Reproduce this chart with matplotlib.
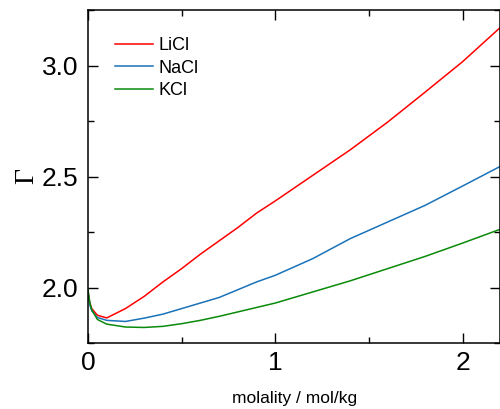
import matplotlib
matplotlib.use("Agg")
import matplotlib.pyplot as plt
from matplotlib.ticker import MultipleLocator

molality = [0.0, 0.01, 0.02, 0.05, 0.1, 0.2, 0.3, 0.4, 0.5, 0.6, 0.7, 0.8, 0.9,
            1.0, 1.2, 1.4, 1.6, 1.8, 2.0, 2.2]
licl = [1.98, 1.93, 1.905, 1.875, 1.863, 1.905, 1.96, 2.025, 2.085, 2.15, 2.21,
        2.27, 2.335, 2.39, 2.505, 2.62, 2.745, 2.88, 3.017, 3.17]
nacl = [1.98, 1.92, 1.895, 1.865, 1.852, 1.847, 1.862, 1.88, 1.905, 1.93, 1.955,
        1.99, 2.025, 2.055, 2.13, 2.22, 2.295, 2.37, 2.457, 2.545]
kcl = [1.99, 1.93, 1.90, 1.856, 1.835, 1.822, 1.82, 1.825, 1.837, 1.852, 1.87,
       1.89, 1.91, 1.93, 1.98, 2.03, 2.085, 2.14, 2.20, 2.262]
labels = ["LiCl", "NaCl", "KCl"]
colors = ["#ff0000", "#1a72b8", "#0a8a0a"]
xticks = [0, 1, 2]
yticks = [2.0, 2.5, 3.0]

plt.rcParams['font.family'] = ['Liberation Sans', 'DejaVu Sans']
fig = plt.figure(figsize=(5.0, 4.09), dpi=100)
ax = fig.add_axes([88/500, 1-343/409, 412/500, 333/409])

for y, lab, c in zip([licl, nacl, kcl], labels, colors):
    ax.plot(molality, y, color=c, lw=1.1, label=lab)

ax.set_xlim(0, 2.2)
ax.set_ylim(1.75, 3.25)
ax.set_xticks(xticks)
ax.set_xticklabels([str(t) for t in xticks])
ax.set_yticks(yticks)
ax.set_yticklabels([f"{t:.1f}" for t in yticks])
ax.xaxis.set_minor_locator(MultipleLocator(0.5))
ax.yaxis.set_minor_locator(MultipleLocator(0.25))
ax.tick_params(which='both', direction='in', top=True, right=True, width=1)
ax.tick_params(which='major', length=7, labelsize=19)
ax.tick_params(axis='x', which='major', pad=6)
ax.tick_params(axis='y', which='major', pad=7)
ax.tick_params(which='minor', length=4)
for s in ax.spines.values():
    s.set_linewidth(1.1)

fig.text(295/500, 1-403/409, "molality / mol/kg", fontsize=12.5,
         ha='center', va='baseline')
ax.set_ylabel("Γ", fontsize=20, family=['Liberation Serif', 'DejaVu Serif'], labelpad=2)

leg = ax.legend(loc='upper left', bbox_to_anchor=(0.048, 0.94), borderaxespad=0,
                frameon=False, fontsize=13, handlelength=2.1, handletextpad=0.3,
                labelspacing=0.3)

fig.savefig("out.png", dpi=100)
